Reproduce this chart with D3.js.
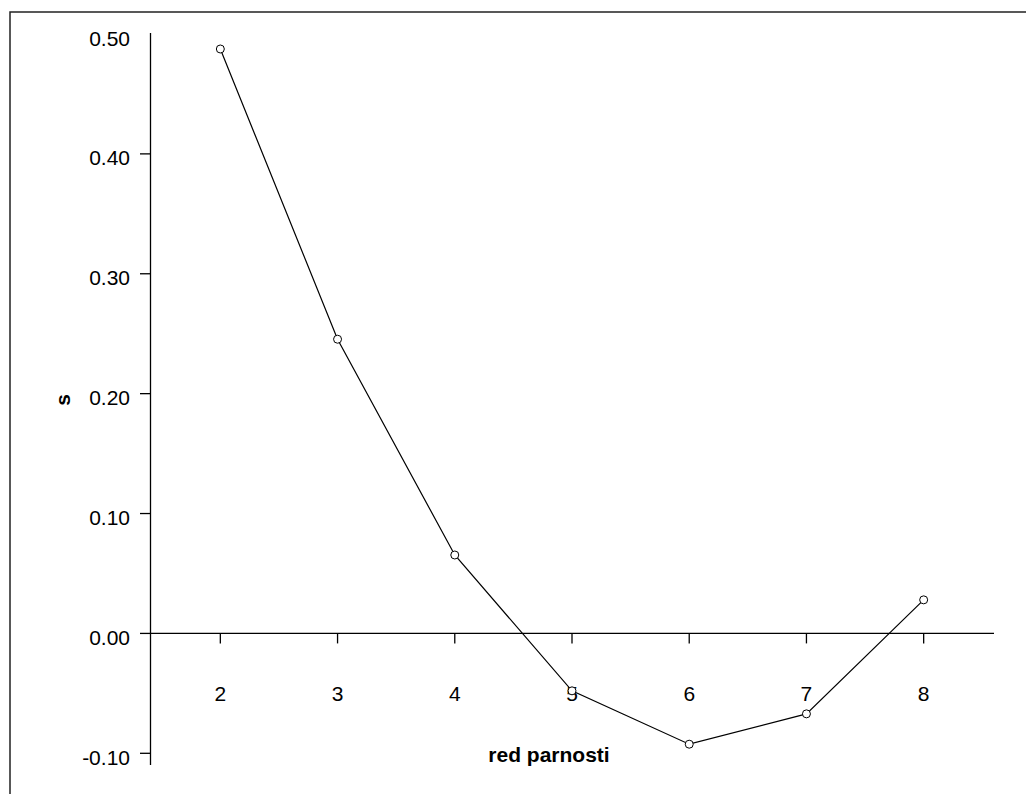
<!DOCTYPE html>
<html>
<head>
<meta charset="utf-8">
<script src="https://cdn.jsdelivr.net/npm/d3@7"></script>
<style>
  html, body { margin: 0; padding: 0; background: #fff; }
  svg { display: block; font-family: Arial, "Liberation Sans", sans-serif; }
</style>
</head>
<body>
<svg id="chart" width="1026" height="794"></svg>
<script>
// Order of parity (x) and the s statistic (y)
const orders = [2, 3, 4, 5, 6, 7, 8];
const sValues = [0.4875, 0.2454, 0.0654, -0.0479, -0.0924, -0.0671, 0.0280];
const yTickValues = [0.5, 0.4, 0.3, 0.2, 0.1, 0.0, -0.1];
const xLabel = "red parnosti";
const yLabel = "s";

const svg = d3.select("#chart");

// outer frame (runs off the right and bottom edges)
svg.append("rect")
  .attr("x", 10).attr("y", 12)
  .attr("width", 1030).attr("height", 800)
  .attr("fill", "none").attr("stroke", "#222").attr("stroke-width", 1.5);

const x = d3.scaleLinear().domain([1.4, 8.6]).range([150, 994]);
const y = d3.scaleLinear().domain([0.5, -0.1]).range([34, 753.3]);
const yBottom = 765;

// y axis
const yAxis = svg.append("g");
yAxis.append("line")
  .attr("x1", 150.5).attr("x2", 150.5)
  .attr("y1", y(0.5) - 1).attr("y2", yBottom)
  .attr("stroke", "#000").attr("stroke-width", 1.3);
yAxis.selectAll("line.tick")
  .data(yTickValues.filter(v => v < 0.5))
  .join("line")
  .attr("class", "tick")
  .attr("x1", 140).attr("x2", 150.5)
  .attr("y1", d => y(d)).attr("y2", d => y(d))
  .attr("stroke", "#000").attr("stroke-width", 1.3);
yAxis.selectAll("text")
  .data(yTickValues)
  .join("text")
  .attr("x", 130)
  .attr("y", d => y(d) + 11.5)
  .attr("text-anchor", "end")
  .attr("font-size", 21)
  .attr("fill", "#000")
  .text(d => d.toFixed(2));

// x axis along zero
const xAxis = svg.append("g");
xAxis.append("line")
  .attr("x1", 150).attr("x2", 994)
  .attr("y1", y(0)).attr("y2", y(0))
  .attr("stroke", "#000").attr("stroke-width", 1.3);
xAxis.selectAll("line.tick")
  .data(orders)
  .join("line")
  .attr("class", "tick")
  .attr("x1", d => x(d)).attr("x2", d => x(d))
  .attr("y1", y(0)).attr("y2", y(0) + 10)
  .attr("stroke", "#000").attr("stroke-width", 1.3);
xAxis.selectAll("text")
  .data(orders)
  .join("text")
  .attr("x", d => x(d))
  .attr("y", 700.5)
  .attr("text-anchor", "middle")
  .attr("font-size", 21)
  .attr("fill", "#000")
  .text(d => d);

// axis titles
svg.append("text")
  .attr("x", 549).attr("y", 762)
  .attr("text-anchor", "middle")
  .attr("font-size", 21).attr("font-weight", "bold")
  .text(xLabel);
svg.append("text")
  .attr("transform", "translate(70,400) rotate(-90)")
  .attr("text-anchor", "middle")
  .attr("font-size", 21).attr("font-weight", "bold")
  .text(yLabel);

// series line and markers
const data = orders.map((o, i) => ({ o, v: sValues[i] }));
svg.append("path")
  .datum(data)
  .attr("fill", "none")
  .attr("stroke", "#000")
  .attr("stroke-width", 1.2)
  .attr("d", d3.line().x(d => x(d.o)).y(d => y(d.v)));
svg.selectAll("circle")
  .data(data)
  .join("circle")
  .attr("cx", d => x(d.o)).attr("cy", d => y(d.v))
  .attr("r", 4)
  .attr("fill", "#fff")
  .attr("stroke", "#000")
  .attr("stroke-width", 1);
</script>
</body>
</html>
